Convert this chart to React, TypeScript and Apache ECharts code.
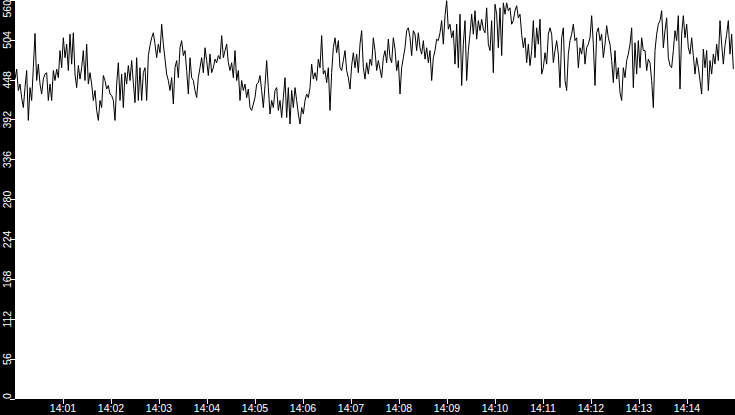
import { useEffect, useRef } from 'react';
import * as echarts from 'echarts';

const DAY = [2024, 0, 1];
const START_LABEL = '14:00';
const END_LABEL = '14:15';
const X_TICK_LABELS = ['14:01', '14:02', '14:03', '14:04', '14:05', '14:06', '14:07', '14:08', '14:09', '14:10', '14:11', '14:12', '14:13', '14:14'];
const Y_TICKS = [0, 56, 112, 168, 224, 280, 336, 392, 448, 504, 560];

const SEG1 = [449, 463, 433, 442, 423, 409, 437, 461, 391, 437, 419, 465, 513, 447, 470, 442, 428, 449, 456, 458, 419, 442, 419, 461, 447, 463, 451, 489, 465, 507, 479, 498, 461, 512, 470, 514, 456, 437, 468, 449, 465, 489, 447, 498, 442, 458, 442, 419, 433, 405, 391, 419, 409, 454];
const SEG2 = [447, 435, 440, 428, 426, 419, 391, 442, 472, 419, 456, 409, 458, 442, 468, 447, 475, 444, 416, 479, 419, 465, 419, 458, 465, 419, 482, 496, 507, 514, 498, 479, 498, 486, 526, 498, 477, 456, 447, 433, 451, 414, 465, 475, 451, 493, 503, 482, 489, 461, 428, 479, 451, 447];
const SEG3 = [433, 423, 451, 465, 479, 458, 493, 475, 454, 484, 458, 465, 477, 472, 482, 477, 510, 479, 489, 498, 472, 461, 472, 451, 489, 447, 461, 419, 447, 433, 442, 423, 435, 409, 405, 414, 423, 442, 444, 454, 433, 409, 440, 475, 437, 400, 419, 409, 433, 437, 405, 419, 395, 423];
const SEG4 = [451, 395, 437, 386, 433, 409, 437, 419, 400, 386, 409, 400, 419, 428, 423, 437, 470, 449, 458, 447, 477, 465, 510, 456, 461, 444, 465, 405, 458, 493, 507, 486, 503, 465, 461, 475, 489, 461, 451, 435, 468, 486, 465, 484, 458, 498, 517, 465, 449, 472, 456, 477, 468, 507];
const SEG5 = [489, 461, 475, 463, 451, 479, 489, 472, 505, 479, 472, 507, 491, 461, 475, 428, 465, 479, 493, 517, 521, 507, 482, 517, 512, 489, 514, 493, 484, 503, 477, 493, 472, 489, 447, 479, 489, 505, 503, 514, 531, 498, 538, 559, 519, 526, 507, 517, 470, 526, 465, 540, 440, 498];
const SEG6 = [531, 447, 489, 512, 540, 512, 545, 505, 531, 517, 533, 519, 514, 549, 498, 489, 531, 458, 554, 540, 493, 549, 482, 556, 540, 556, 545, 549, 526, 531, 545, 552, 535, 540, 512, 493, 507, 472, 498, 468, 489, 531, 479, 521, 498, 533, 456, 465, 486, 470, 512, 521, 512, 472];
const SEG7 = [489, 503, 484, 437, 507, 521, 447, 433, 484, 503, 512, 526, 503, 507, 465, 493, 484, 505, 470, 493, 498, 507, 538, 498, 440, 514, 521, 503, 512, 479, 498, 524, 507, 498, 475, 444, 489, 449, 465, 430, 419, 465, 451, 475, 484, 498, 521, 437, 500, 456, 503, 465, 507, 489];
const SEG8 = [489, 461, 477, 472, 447, 409, 489, 512, 526, 531, 545, 493, 517, 535, 479, 468, 465, 489, 517, 503, 538, 435, 512, 538, 507, 526, 493, 484, 507, 482, 456, 479, 465, 447, 428, 491, 465, 489, 433, 475, 456, 484, 470, 498, 475, 531, 498, 470, 496, 512, 531, 484, 512, 463];

const VALUES = [...SEG1, ...SEG2, ...SEG3, ...SEG4, ...SEG5, ...SEG6, ...SEG7, ...SEG8];

function toTs(label: string): number {
  const [h, m] = label.split(':').map(Number);
  return new Date(DAY[0], DAY[1], DAY[2], h, m, 0).getTime();
}

export default function App() {
  const ref = useRef<HTMLDivElement>(null);
  useEffect(() => {
    if (!ref.current) return;
    const chart = echarts.init(ref.current, null, { renderer: 'svg' });
    const start = toTs(START_LABEL);
    const end = toTs(END_LABEL);
    const step = (end - start) / VALUES.length;
    const data = VALUES.map((v, i) => [start + i * step, v]);
    const tickTs = X_TICK_LABELS.map(toTs);
    const font = 'Liberation Sans, Arial, sans-serif';
    chart.setOption({
      animation: false,
      grid: {
        left: 15, right: 0, top: 0, bottom: 16,
        show: true, backgroundColor: '#fff', borderWidth: 0,
        containLabel: false, outerBoundsMode: 'none',
      },
      xAxis: {
        type: 'value',
        min: start,
        max: end,
        interval: 60000,
        axisLine: { show: false },
        splitLine: { show: false },
        axisTick: { show: true, length: 5, lineStyle: { color: '#fff', width: 1 }, customValues: tickTs },
        axisLabel: {
          color: '#fff',
          fontSize: 10.5,
          fontFamily: font,
          margin: 3,
          customValues: tickTs,
          formatter: (v: number) => {
            const i = tickTs.indexOf(v);
            return i >= 0 ? X_TICK_LABELS[i] : '';
          },
        },
      },
      yAxis: {
        type: 'value',
        min: Y_TICKS[0],
        max: Y_TICKS[Y_TICKS.length - 1],
        interval: Y_TICKS[1] - Y_TICKS[0],
        axisLine: { show: false },
        splitLine: { show: false },
        axisTick: { show: true, length: 5, lineStyle: { color: '#fff', width: 1 } },
        axisLabel: {
          color: '#fff',
          fontSize: 10.5,
          fontFamily: font,
          rotate: 90,
          margin: 3,
          showMinLabel: true,
          showMaxLabel: true,
          alignMinLabel: 'left',
          alignMaxLabel: 'right',
        },
      },
      series: [
        {
          type: 'line',
          data,
          showSymbol: false,
          symbol: 'none',
          lineStyle: { color: '#000', width: 1 },
        },
      ],
    });
    return () => chart.dispose();
  }, []);
  return (
    <div
      ref={ref}
      style={{ position: 'fixed', left: 0, top: 0, width: 735, height: 415, background: '#000' }}
    />
  );
}
